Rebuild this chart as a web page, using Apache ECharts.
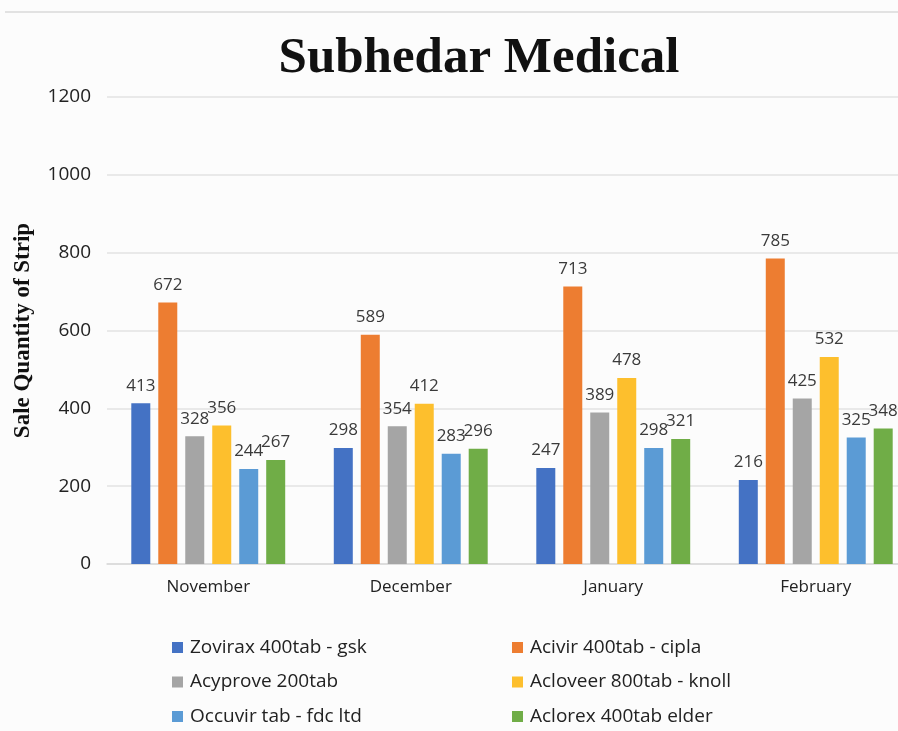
<!DOCTYPE html>
<html>
<head>
<meta charset="utf-8">
<script src="https://cdn.jsdelivr.net/npm/echarts@6/dist/echarts.min.js"></script>
<style>
  html, body { margin: 0; padding: 0; background: #fcfcfc; overflow: hidden; }
  #main { width: 920px; height: 731px; }
</style>
</head>
<body>
<div id="main"></div>
<script>
var months = ['November', 'December', 'January', 'February'];
var names = ['Zovirax 400tab - gsk', 'Acivir 400tab - cipla', 'Acyprove 200tab',
             'Acloveer 800tab - knoll', 'Occuvir tab - fdc ltd', 'Aclorex 400tab elder'];
var zovirax  = [413, 298, 247, 216];
var acivir   = [672, 589, 713, 785];
var acyprove = [328, 354, 389, 425];
var acloveer = [356, 412, 478, 532];
var occuvir  = [244, 283, 298, 325];
var aclorex  = [267, 296, 321, 348];
var colors = ['#4472c4', '#ed7d31', '#a5a5a5', '#fdbf2d', '#5b9bd5', '#70ad47'];

var values = [zovirax, acivir, acyprove, acloveer, occuvir, aclorex];
var series = [];
for (var i = 0; i < names.length; i++) {
  series.push({
    name: names[i],
    type: 'bar',
    data: values[i],
    barWidth: 19,
    barGap: '42%',
    itemStyle: { color: colors[i] },
    label: {
      show: true, position: 'top', distance: 9,
      color: '#3a3a3a', fontSize: 17, fontFamily: 'Open Sans'
    }
  });
}

var legendText = { fontSize: 19, color: '#222', fontFamily: 'Open Sans', padding: [0, 0, 0, 2] };

var chart = echarts.init(document.getElementById('main'));
chart.setOption({
  backgroundColor: '#fcfcfc',
  animation: false,
  title: {
    text: 'Subhedar Medical',
    left: 474, top: 28, textAlign: 'center',
    textStyle: { fontFamily: 'Liberation Serif', fontWeight: 'bold', fontSize: 51, color: '#111' }
  },
  graphic: [{
    type: 'line', shape: { x1: 5, y1: 12, x2: 898, y2: 12 },
    style: { stroke: '#e2e2e2', lineWidth: 2 }
  }],
  grid: { left: 107, right: 3, top: 97, bottom: 167 },
  xAxis: {
    type: 'category', data: months,
    axisTick: { show: false },
    axisLine: { lineStyle: { color: '#d9d9d9', width: 1.5 } },
    axisLabel: { color: '#222', fontSize: 17, fontFamily: 'Open Sans', margin: 15 }
  },
  yAxis: {
    type: 'value', min: 0, max: 1200, interval: 200,
    name: 'Sale Quantity of Strip', nameLocation: 'middle', nameGap: 72, nameRotate: 90,
    nameTextStyle: { fontFamily: 'Liberation Serif', fontWeight: 'bold', fontSize: 23, color: '#111' },
    axisLabel: {
      color: '#222', fontSize: 19, fontFamily: 'Open Sans', margin: 16,
      formatter: function (v) { return String(v); }
    },
    splitLine: { lineStyle: { color: '#e3e3e3', width: 1.5 } }
  },
  legend: [{
    orient: 'vertical', left: 172, top: 638, itemGap: 15.5, padding: 0,
    itemWidth: 11, itemHeight: 11, icon: 'rect',
    data: [names[0], names[2], names[4]],
    textStyle: legendText
  }, {
    orient: 'vertical', left: 512, top: 638, itemGap: 15.5, padding: 0,
    itemWidth: 11, itemHeight: 11, icon: 'rect',
    data: [names[1], names[3], names[5]],
    textStyle: legendText
  }],
  series: series
});
</script>
</body>
</html>
